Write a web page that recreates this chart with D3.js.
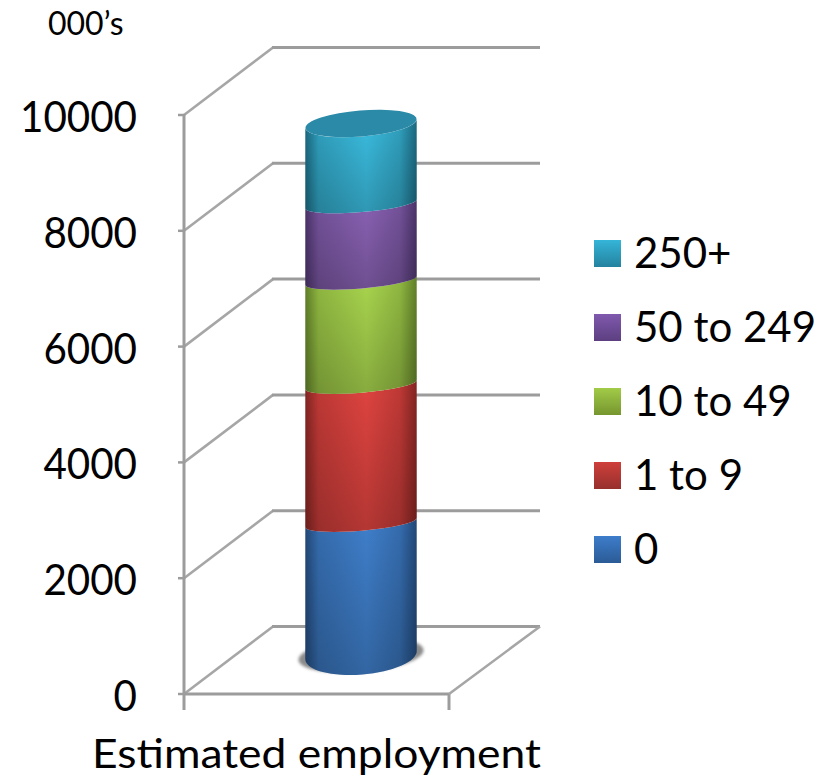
<!DOCTYPE html>
<html><head><meta charset="utf-8">
<script src="https://cdn.jsdelivr.net/npm/d3@7"></script>
<style>html,body{margin:0;background:#fff}svg{display:block}text{font-family:Lato,"Noto Sans",sans-serif;fill:#000}</style>
</head><body><div id="c"></div>
<script>
const categories = ["0","1 to 9","10 to 49","50 to 249","250+"];
const values = [2287,2383,1800,1320,1390];
const yTicks = [0,2000,4000,6000,8000,10000];
const xCategory = ["Estimated employment"];
const mids = ["#3f7fcb","#e04440","#a9d64e","#8a62b4","#3bbde0"];
const edges = ["#1b3a62","#6a1d1b","#4f6a20","#3b2858","#135468"];
const topCap = "#2a8aa8";
const swatchTop = ["#3d7dcb","#cf3f3b","#a2cb48","#8059ae","#35b5d8"];
const swatchBot = ["#2b5b96","#96302d","#76962f","#5c3f80","#24829f"];
const W=827,H=778, grid="#9c9c9c";
const svg=d3.select("#c").append("svg").attr("width",W).attr("height",H);
const defs=svg.append("defs");
const y=d3.scaleLinear().domain([0,10000]).range([694,115]);
const x=d3.scaleBand().domain(xCategory).range([184,449]);
const depth={x:89,y:-67.5};
const x0=x.range()[0],x1=x.range()[1];
const gl=svg.append("g").attr("fill","none").attr("stroke",grid);
yTicks.forEach(t=>{
  const p=y(t);
  gl.append("line").attr("x1",x0).attr("y1",p).attr("x2",x0+depth.x).attr("y2",p+depth.y).attr("stroke-width",2.6).attr("stroke","#a6a6a6");
  gl.append("line").attr("x1",x0+depth.x-1).attr("y1",p+depth.y).attr("x2",x1+depth.x+2).attr("y2",p+depth.y).attr("stroke-width",3);
  gl.append("line").attr("x1",x0-6).attr("y1",p).attr("x2",x0).attr("y2",p).attr("stroke-width",2.5);
  const s=String(t);
  svg.append("text").attr("x",137).attr("y",p+17).attr("text-anchor","end").attr("font-size",43)
    .attr("textLength",s.length*23.4).attr("lengthAdjust","spacingAndGlyphs").text(t);
});
gl.append("line").attr("x1",x0).attr("y1",y(10000)-1).attr("x2",x0).attr("y2",710).attr("stroke-width",3);
gl.append("line").attr("x1",x0).attr("y1",y(0)).attr("x2",x1).attr("y2",y(0)).attr("stroke-width",3);
gl.append("line").attr("x1",x1).attr("y1",y(0)).attr("x2",x1).attr("y2",710).attr("stroke-width",3);
gl.append("line").attr("x1",x1).attr("y1",y(0)).attr("x2",x1+depth.x+2).attr("y2",y(0)+depth.y).attr("stroke-width",2.6).attr("stroke","#a6a6a6");

const cx=x(xCategory[0])+x.bandwidth()/2+depth.x/2, rx=55.7, tilt=4.7, baseOffset=39;
const L=cx-rx, R=cx+rx, cy=v=>y(v)-baseOffset;
const arc=(v,ry,sweep,dir)=>{
  const c=cy(v);
  return dir>0?`A${rx} ${ry} ${-tilt} 0 ${sweep} ${R} ${c-4.6}`:`A${rx} ${ry} ${-tilt} 0 ${sweep} ${L} ${c+4.6}`;
};
defs.append("filter").attr("id","blur").append("feGaussianBlur").attr("stdDeviation",1.5);
svg.append("ellipse").attr("cx",cx).attr("cy",cy(0)).attr("rx",rx+7).attr("ry",17)
  .attr("transform",`rotate(${-tilt} ${cx} ${cy(0)})`).attr("fill","#8a8a8a").attr("filter","url(#blur)");
const shade=defs.append("linearGradient").attr("id","vs").attr("x1",0).attr("x2",0).attr("y1",0).attr("y2",1);
shade.append("stop").attr("offset",0).attr("stop-color","#000").attr("stop-opacity",0);
shade.append("stop").attr("offset",1).attr("stop-color","#000").attr("stop-opacity",.2);
let cum=0;
const stacks=values.map(v=>{const s=[cum,cum+v];cum+=v;return s;});
const bands=svg.append("g");
stacks.forEach((s,i)=>{
  const g=defs.append("linearGradient").attr("id","b"+i).attr("gradientUnits","userSpaceOnUse").attr("x1",L).attr("x2",R).attr("y1",0).attr("y2",0);
  [[0,.2],[.12,.72],[.55,1],[.85,.72],[1,.2]].forEach(([o,k])=>{
    g.append("stop").attr("offset",o).attr("stop-color",d3.interpolateRgb(edges[i],mids[i])(k));
  });
  const bot=i===0?19.4:8.1, top=i===values.length-1?13:8.1;
  const d=`M${L} ${cy(s[0])+4.6}${arc(s[0],bot,0,1)}L${R} ${cy(s[1])-4.6}${arc(s[1],top,1,-1)}Z`;
  bands.append("path").attr("d",d).attr("fill",`url(#b${i})`);
  bands.append("path").attr("d",d).attr("fill","url(#vs)");
});
const tv=stacks[stacks.length-1][1];
svg.append("ellipse").attr("cx",cx).attr("cy",cy(tv)).attr("rx",rx).attr("ry",13)
  .attr("transform",`rotate(${-tilt} ${cx} ${cy(tv)})`).attr("fill",topCap);

const ly=d3.scalePoint().domain(d3.range(5)).range([240,536]);
categories.slice().reverse().forEach((c,j)=>{
  const i=4-j;
  const g=defs.append("linearGradient").attr("id","s"+i).attr("x1",0).attr("x2",0).attr("y1",0).attr("y2",1);
  g.append("stop").attr("offset",0).attr("stop-color",swatchTop[i]);
  g.append("stop").attr("offset",1).attr("stop-color",swatchBot[i]);
  svg.append("rect").attr("x",594).attr("y",ly(j)).attr("width",27).attr("height",27).attr("fill",`url(#s${i})`);
  svg.append("text").attr("x",634).attr("y",ly(j)+28).attr("font-size",42).text(c);
});
svg.append("text").attr("x",92).attr("y",768).attr("font-size",40).attr("textLength",449).attr("lengthAdjust","spacingAndGlyphs").text(xCategory[0]);
svg.append("text").attr("x",48).attr("y",35).attr("font-size",32).text("000’s");
</script></body></html>
